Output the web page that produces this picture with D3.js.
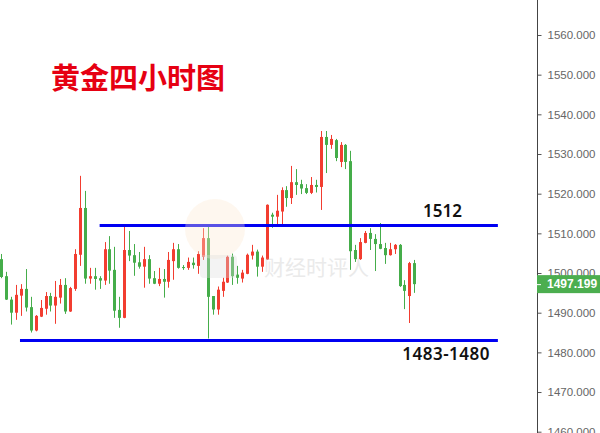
<!DOCTYPE html>
<html>
<head>
<meta charset="utf-8">
<script src="https://cdn.jsdelivr.net/npm/d3@7"></script>
<style>
  html, body { margin: 0; padding: 0; background: #fff; }
  svg { display: block; }
</style>
</head>
<body>
<svg id="chart" width="600" height="433"></svg>
<script>
// Gold, 4-hour candles (red = up, green = down)
const opens = [
  1503.5, 1499.2, 1493.3, 1490.0, 1494.3, 1496.0, 1491.4, 1485.5, 1489.0, 1491.0,
  1494.2, 1491.8, 1493.8, 1497.0, 1490.3, 1496.0, 1504.6, 1516.4, 1498.6, 1499.2,
  1498.7, 1498.1, 1506.0, 1500.8, 1490.7, 1488.7, 1505.8, 1504.5, 1502.7, 1501.6,
  1503.5, 1498.7, 1497.3, 1498.5, 1497.8, 1503.0, 1506.0, 1501.5, 1501.3, 1502.6,
  1501.8, 1504.1, 1508.8, 1494.2, 1490.8, 1495.5, 1497.6, 1504.1, 1499.6, 1498.6,
  1499.8, 1504.4, 1505.4, 1501.6, 1503.4, 1514.7, 1514.2, 1515.5, 1520.9, 1518.9,
  1522.9, 1522.4, 1521.4, 1520.2, 1522.2, 1521.7, 1534.3, 1532.3, 1533.5, 1528.0,
  1532.3, 1528.2, 1505.8, 1503.5, 1507.6, 1510.1, 1508.6, 1507.3, 1506.3, 1504.5,
  1506.0, 1507.1, 1497.0, 1494.2, 1502.5
];
const highs = [
  1504.8, 1500.3, 1494.0, 1497.0, 1497.2, 1501.0, 1494.0, 1489.4, 1493.2, 1495.2,
  1495.0, 1498.0, 1498.5, 1498.7, 1496.5, 1506.0, 1524.5, 1520.7, 1501.3, 1501.3,
  1499.2, 1507.8, 1509.3, 1506.6, 1494.0, 1512.3, 1510.6, 1507.3, 1505.3, 1506.6,
  1504.5, 1500.5, 1501.3, 1501.0, 1505.3, 1507.6, 1507.3, 1502.0, 1503.9, 1503.9,
  1505.5, 1511.3, 1512.1, 1494.2, 1496.6, 1498.8, 1504.4, 1504.9, 1501.8, 1500.8,
  1504.9, 1507.1, 1505.9, 1504.4, 1517.3, 1515.2, 1519.7, 1521.6, 1521.9, 1527.0,
  1526.2, 1523.5, 1522.4, 1524.2, 1523.5, 1535.8, 1535.8, 1534.8, 1533.8, 1533.0,
  1532.5, 1530.8, 1507.1, 1508.8, 1510.6, 1511.3, 1509.8, 1512.6, 1507.6, 1507.6,
  1507.3, 1507.3, 1498.2, 1502.8, 1503.3
];
const lows = [
  1498.7, 1493.2, 1487.0, 1488.2, 1489.2, 1490.3, 1485.0, 1485.3, 1488.9, 1489.5,
  1490.3, 1487.2, 1492.3, 1489.7, 1490.2, 1495.5, 1501.8, 1497.3, 1497.3, 1495.8,
  1496.0, 1497.0, 1497.3, 1488.7, 1486.2, 1488.6, 1503.0, 1499.3, 1501.1, 1496.3,
  1497.3, 1497.2, 1496.7, 1493.8, 1496.3, 1498.3, 1501.1, 1500.8, 1500.8, 1501.1,
  1499.8, 1503.3, 1483.5, 1489.5, 1489.5, 1494.0, 1497.5, 1497.0, 1497.3, 1497.6,
  1499.7, 1503.4, 1499.1, 1500.3, 1503.3, 1511.4, 1512.1, 1512.0, 1516.7, 1517.4,
  1519.7, 1519.9, 1519.9, 1519.9, 1520.3, 1515.9, 1525.2, 1531.3, 1528.2, 1526.7,
  1526.2, 1500.8, 1502.8, 1503.3, 1507.5, 1505.8, 1500.5, 1506.0, 1502.3, 1504.4,
  1504.8, 1496.5, 1490.9, 1487.4, 1495.0
];
const closes = [
  1499.0, 1493.3, 1490.0, 1494.5, 1496.0, 1491.3, 1485.5, 1489.2, 1491.2, 1494.2,
  1491.8, 1494.0, 1497.0, 1490.3, 1496.2, 1504.8, 1516.4, 1498.6, 1499.2, 1498.5,
  1498.1, 1506.0, 1500.6, 1490.5, 1488.7, 1505.8, 1504.4, 1502.6, 1501.6, 1503.5,
  1498.6, 1497.3, 1498.5, 1497.8, 1503.3, 1506.0, 1501.3, 1501.3, 1502.8, 1502.0,
  1504.8, 1508.8, 1494.0, 1490.8, 1495.8, 1497.8, 1504.1, 1499.2, 1498.8, 1500.1,
  1504.6, 1505.4, 1501.6, 1503.9, 1517.2, 1514.2, 1515.7, 1520.9, 1518.9, 1522.9,
  1522.2, 1521.3, 1520.2, 1522.2, 1521.7, 1534.3, 1532.3, 1533.8, 1529.0, 1532.3,
  1528.0, 1505.5, 1503.5, 1507.8, 1510.1, 1508.6, 1507.3, 1506.1, 1504.5, 1506.0,
  1507.1, 1496.7, 1495.5, 1502.5, 1497.199
];

// Price axis ticks
const priceTicks = [1460, 1470, 1480, 1490, 1500, 1510, 1520, 1530, 1540, 1550, 1560];

// Horizontal support / resistance levels and their captions
const levelValues = [1512, 1483];
const levelLabels = ["1512", "1483-1480"];
const levelFrom = [20, 3.8];   // candle index where each line begins
const levelTo = [101, 101];     // candle index where each line ends

const chartTitle = "黄金四小时图";
const lastPrice = closes[closes.length - 1];

const svg = d3.select("#chart");
const W = 600, H = 433;
const axisX = 537;

const candles = opens.map((o, i) => ({ i, o, h: highs[i], l: lows[i], c: closes[i] }));

const x = d3.scaleLinear().domain([0, candles.length - 1]).range([1.3, 414.3]);
const y = d3.scaleLinear().domain([1460, 1560]).range([431.7, 35]);

const UP = "#f23d30", DOWN = "#45ad4a";
const colorOf = d => (d.c >= d.o ? UP : DOWN);

// candles
const g = svg.append("g").attr("class", "candles");
g.selectAll("line.wick").data(candles).join("line")
  .attr("class", "wick")
  .attr("x1", d => Math.round(x(d.i)) + 0.5)
  .attr("x2", d => Math.round(x(d.i)) + 0.5)
  .attr("y1", d => y(d.h))
  .attr("y2", d => y(d.l))
  .attr("stroke", colorOf)
  .attr("stroke-width", 1);
g.selectAll("rect.body").data(candles).join("rect")
  .attr("class", "body")
  .attr("x", d => Math.round(x(d.i)) - 1)
  .attr("width", 3)
  .attr("y", d => y(Math.max(d.o, d.c)))
  .attr("height", d => Math.max(1, Math.abs(y(d.o) - y(d.c))))
  .attr("fill", colorOf);

// level lines
const levels = levelValues.map((v, k) => ({ v, label: levelLabels[k], from: levelFrom[k], to: levelTo[k] }));
svg.append("g").selectAll("line").data(levels).join("line")
  .attr("x1", d => x(d.from))
  .attr("x2", d => x(d.to))
  .attr("y1", d => y(d.v))
  .attr("y2", d => y(d.v))
  .attr("stroke", "#0000f2")
  .attr("stroke-width", 3);

svg.append("text")
  .attr("x", 462).attr("y", y(levels[0].v) - 8)
  .attr("text-anchor", "end")
  .attr("font-family", "'Noto Sans', sans-serif")
  .attr("font-size", 17).attr("font-weight", 600)
  .attr("fill", "#111")
  .text(levels[0].label);
svg.append("text")
  .attr("x", 490).attr("y", y(levels[1].v) + 20)
  .attr("text-anchor", "end")
  .attr("font-family", "'Noto Sans', sans-serif")
  .attr("font-size", 17).attr("font-weight", 600)
  .attr("letter-spacing", 0.5)
  .attr("fill", "#111")
  .text(levels[1].label);

// watermark
const wm = svg.append("g").attr("class", "watermark").attr("pointer-events", "none");
wm.append("circle").attr("cx", 215).attr("cy", 229).attr("r", 30)
  .attr("fill", "#fce9d2").attr("opacity", 0.35);
wm.append("rect").attr("x", 200).attr("y", 255).attr("width", 37).attr("height", 23).attr("rx", 4)
  .attr("fill", "#dddddd").attr("opacity", 0.35);
wm.append("text").attr("x", 264).attr("y", 275)
  .attr("font-family", "'Noto Sans CJK SC', sans-serif")
  .attr("font-size", 21)
  .attr("fill", "#cccccc").attr("opacity", 0.4)
  .text("财经时评人");

// title
svg.append("text")
  .attr("x", 51).attr("y", 75.5)
  .attr("dominant-baseline", "central")
  .attr("font-family", "'Noto Sans CJK SC', sans-serif")
  .attr("font-size", 29).attr("font-weight", 700)
  .attr("fill", "#e60012")
  .text(chartTitle);

// price axis
const axis = d3.axisRight(y)
  .tickValues(priceTicks)
  .tickFormat(d3.format(".3f"))
  .tickSize(4)
  .tickPadding(6)
  .tickSizeOuter(0);
const ax = svg.append("g").attr("transform", `translate(${axisX + 0.5},0)`).call(axis);
ax.select(".domain").remove();
ax.selectAll(".tick line").attr("stroke", "#555");
ax.selectAll(".tick text")
  .attr("fill", "#666")
  .attr("font-family", "'Liberation Sans', Arial, sans-serif")
  .attr("font-size", 11.5);
svg.append("line")
  .attr("x1", axisX + 0.5).attr("x2", axisX + 0.5)
  .attr("y1", 0).attr("y2", H)
  .attr("stroke", "#444").attr("stroke-width", 1);

// last price tag
const tag = svg.append("g").attr("transform", `translate(${axisX},${y(lastPrice)})`);
tag.append("rect").attr("x", 0).attr("y", -9).attr("width", W - axisX).attr("height", 18)
  .attr("fill", "#4cae4f");
tag.append("line").attr("x1", 0).attr("x2", 4).attr("y1", 0.5).attr("y2", 0.5)
  .attr("stroke", "#fff");
tag.append("text").attr("x", 10).attr("y", 0)
  .attr("dominant-baseline", "central")
  .attr("font-family", "'Liberation Sans', Arial, sans-serif")
  .attr("font-size", 12).attr("font-weight", 700)
  .attr("fill", "#fff")
  .text(d3.format(".3f")(lastPrice));
</script>
</body>
</html>
